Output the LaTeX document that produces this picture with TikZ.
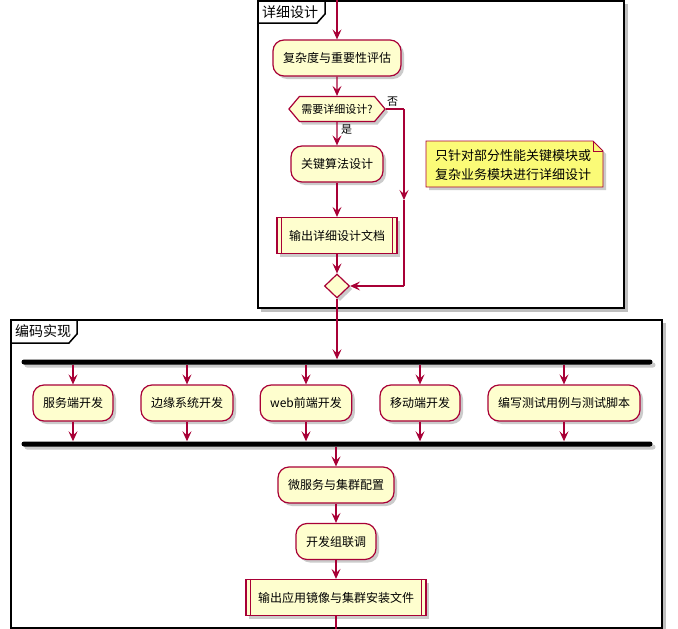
\documentclass[tikz,border=0pt]{standalone}
\usepackage{fontspec}
\newfontfamily\cjk{Noto Sans CJK SC}
\usetikzlibrary{arrows.meta,shadows,shapes.geometric,shapes.symbols}

\definecolor{umlred}{HTML}{A80036}
\definecolor{umlfill}{HTML}{FEFECE}
\definecolor{notefill}{HTML}{FBFB77}

\tikzset{
  umlshadow/.style={drop shadow={shadow xshift=3pt,shadow yshift=-3pt,fill=black!40,opacity=.5}},
  act/.style={draw=umlred,fill=umlfill,line width=1.2pt,rounded corners=11pt,minimum height=36pt,
    inner xsep=10pt,font=\cjk\fontsize{12}{14}\selectfont,umlshadow},
  subproc/.style={act,sharp corners,inner xsep=12pt},
  decide/.style={shape=signal,signal to=east and west,signal pointer angle=100,draw=umlred,fill=umlfill,
    line width=1.2pt,minimum height=25pt,inner xsep=2pt,font=\cjk\fontsize{11}{13}\selectfont,umlshadow},
  merge/.style={shape=diamond,draw=umlred,fill=umlfill,line width=1.2pt,minimum width=25pt,
    minimum height=24pt,inner sep=0pt,umlshadow},
  bar/.style={fill=black,rounded corners=2.5pt,minimum width=631pt,minimum height=5pt,inner sep=0pt,umlshadow},
  flow/.style={draw=umlred,line width=1.1pt,-{Stealth[length=10pt,width=9pt,inset=4pt]}},
  wire/.style={draw=umlred,line width=1.1pt},
  lbl/.style={font=\cjk\fontsize{11}{13}\selectfont,inner sep=1pt},
  frame/.style={draw=black,line width=1.5pt},
  framelbl/.style={font=\cjk\fontsize{14}{16}\selectfont,anchor=west,inner sep=0pt}
}

\begin{document}
\begin{tikzpicture}[x=1pt,y=-1pt]
  \useasboundingbox (0,0) rectangle (678,629);

  %%%%% FRAMES %%%%%
  \fill[black!25] (261,4) rectangle (628,312);
  \draw[frame,fill=white] (258,1) rectangle (624,308);
  \draw[frame] (258,23) -- (317,23) -- (325,14) -- (325,1);
  \node[framelbl] (f1) at (262,12) {详细设计};

  \fill[black!25] (14,323) rectangle (666,632);
  \draw[frame,fill=white] (11,320) rectangle (662,628);
  \draw[frame] (11,343) -- (69,343) -- (77,334) -- (77,320);
  \node[framelbl] (f2) at (15,331) {编码实现};

  %%%%% DETAIL DESIGN %%%%%
  \coordinate (top) at (337,0);
  \node[act] (cplx) at (337,58) {复杂度与重要性评估};
  \node[decide] (need) at (337,109) {需要详细设计?};
  \node[act] (algo) at (337,164) {关键算法设计};
  \node[subproc] (doc) at (337,235.5) {输出详细设计文档};
  \draw[umlred,line width=1.2pt] ([xshift=5pt]doc.north west) -- ([xshift=5pt]doc.south west)
    ([xshift=-5pt]doc.north east) -- ([xshift=-5pt]doc.south east);
  \node[merge] (mrg) at (337,286) {};

  \coordinate (nobr) at (404,109);
  \coordinate (nomid) at (404,200);
  \coordinate (nodown) at (404,286);

  \draw[flow] (top) -- (cplx);
  \draw[flow] (cplx) -- (need);
  \draw[flow] (need) -- (algo);
  \node[lbl,anchor=west] (yes) at (340,130) {是};
  \draw[flow] (algo) -- (doc);
  \draw[flow] (doc) -- (mrg);
  \draw[wire] (need.east) -- (nobr);
  \draw[flow] (nobr) -- (nomid);
  \draw[wire] (nomid) -- (nodown);
  \draw[flow] (nodown) -- (mrg.east);
  \node[lbl,anchor=south west] (no) at (386,108) {否};

  %%%%% NOTE %%%%%
  \draw[umlred,line width=.8pt,fill=notefill,umlshadow]
    (426,141) -- (593,141) -- (603,151) -- (603,187) -- (426,187) -- cycle;
  \draw[umlred,line width=.8pt] (593,141) -- (593,151) -- (603,151);
  \node[font=\cjk\fontsize{13}{19}\selectfont,align=left,inner sep=0pt] (note) at (513,165)
    {只针对部分性能关键模块或\\复杂业务模块进行详细设计};

  %%%%% CODING %%%%%
  \node[bar] (fork) at (337,362) {};
  \node[bar] (join) at (337,444) {};
  \draw[flow] (mrg) -- (fork);

  \node[act] (srv) at (73,403) {服务端开发};
  \node[act] (edge) at (187,403) {边缘系统开发};
  \node[act] (web) at (306,403) {web前端开发};
  \node[act] (mob) at (420,403) {移动端开发};
  \node[act] (test) at (564,403) {编写测试用例与测试脚本};
  \foreach \n in {srv,edge,web,mob,test} {
    \draw[flow] (\n |- fork.south) -- (\n);
    \draw[flow] (\n) -- (\n |- join.north);
  }

  \node[act] (msvc) at (336,485) {微服务与集群配置};
  \node[act] (integ) at (336,541.5) {开发组联调};
  \node[subproc] (img) at (336,597.5) {输出应用镜像与集群安装文件};
  \draw[umlred,line width=1.2pt] ([xshift=5pt]img.north west) -- ([xshift=5pt]img.south west)
    ([xshift=-5pt]img.north east) -- ([xshift=-5pt]img.south east);
  \coordinate (bot) at (336,629);

  \draw[flow] (join.south -| msvc) -- (msvc);
  \draw[flow] (msvc) -- (integ);
  \draw[flow] (integ) -- (img);
  \draw[wire] (img) -- (bot);
\end{tikzpicture}
\end{document}
